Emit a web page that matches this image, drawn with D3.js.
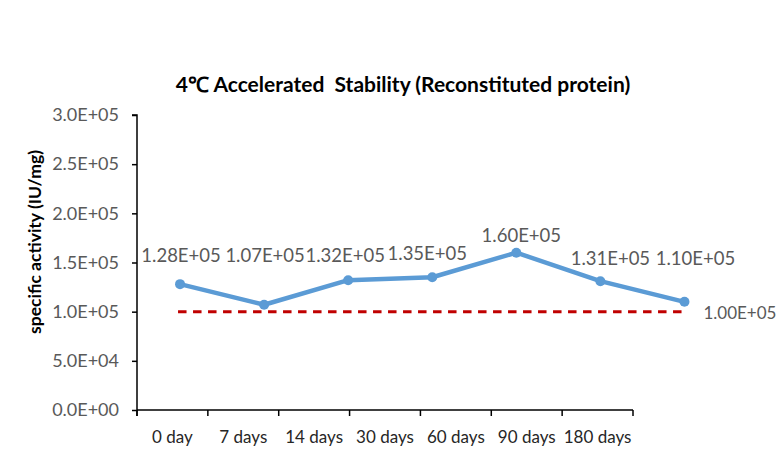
<!DOCTYPE html>
<html>
<head>
<meta charset="utf-8">
<script src="https://cdn.jsdelivr.net/npm/d3@7"></script>
<style>
  html, body { margin: 0; padding: 0; background: #fff; }
  svg { display: block; }
  text { font-family: Lato, "Open Sans", "Liberation Sans", sans-serif; }
</style>
</head>
<body>
<svg id="chart" width="780" height="461"></svg>
<script>
// ---- data ----
const categories = ["0 day", "7 days", "14 days", "30 days", "60 days", "90 days", "180 days"];
const activity = [1.28e5, 1.07e5, 1.32e5, 1.35e5, 1.60e5, 1.31e5, 1.10e5];
const activityLabels = ["1.28E+05", "1.07E+05", "1.32E+05", "1.35E+05", "1.60E+05", "1.31E+05", "1.10E+05"];
const threshold = 1.00e5;
const thresholdLabel = "1.00E+05";
const yTicks = [0, 0.5e5, 1.0e5, 1.5e5, 2.0e5, 2.5e5, 3.0e5];
const yTickLabels = ["0.0E+00", "5.0E+04", "1.0E+05", "1.5E+05", "2.0E+05", "2.5E+05", "3.0E+05"];
const titleText = "4\u2103 Accelerated  Stability (Reconstituted protein)";
const yTitle = "specific activity (IU/mg)";

// ---- layout ----
const svg = d3.select("#chart");
const plot = { left: 137, right: 633, top: 115, bottom: 410 };
// manual label nudges (dx, dy relative to point)
const labelNudge = [[1, -22], [1, -43], [-3, -18], [-5, -17], [5, -11], [10, -16], [11, -37]];

const y = d3.scaleLinear().domain([0, 3e5]).range([plot.bottom, plot.top]);
const x = d3.scaleBand().domain(categories).range([plot.left, plot.right]).padding(0);
// series is drawn on its own (secondary, hidden) category axis
const xs = d3.scaleBand().domain(categories).range([138, 726.5]).padding(0);
const cx = c => xs(c) + xs.bandwidth() / 2;

// title
svg.append("text")
  .attr("x", 403).attr("y", 92)
  .attr("text-anchor", "middle")
  .style("font-size", "21px").style("font-weight", "bold")
  .style("white-space", "pre")
  .attr("fill", "#000")
  .text(titleText);

// y axis
const yAxis = d3.axisLeft(y).tickValues(yTicks)
  .tickFormat((d, i) => yTickLabels[i]).tickSize(5).tickPadding(13);
const gy = svg.append("g").attr("transform", `translate(${plot.left},0)`).call(yAxis);
gy.select(".domain").attr("stroke", "#000").attr("stroke-width", 1.5)
  .attr("d", `M-5,${plot.top}H0V${plot.bottom + 6}`);
gy.selectAll(".tick line").attr("stroke", "#000").attr("stroke-width", 1.5);
gy.selectAll(".tick text").attr("fill", "#595959")
  .style("font-size", "18px").style("font-family", "Lato, 'Open Sans', sans-serif");

// y title
svg.append("text")
  .attr("transform", `translate(41,242) rotate(-90)`)
  .attr("text-anchor", "middle")
  .style("font-size", "17.5px").style("font-weight", "bold")
  .attr("fill", "#000")
  .text(yTitle);

// x axis
const xAxis = d3.axisBottom(x).tickSize(0).tickPadding(21);
const gx = svg.append("g").attr("transform", `translate(0,${plot.bottom})`).call(xAxis);
gx.select(".domain").attr("stroke", "#000").attr("stroke-width", 1.5)
  .attr("d", `M${plot.left},0H${plot.right}`);
gx.selectAll(".tick text").attr("fill", "#262626")
  .style("font-size", "17px").style("font-family", "Lato, 'Open Sans', sans-serif");
const boundaries = categories.map(c => x(c)).concat([x.range()[1]]);
gx.selectAll("line.bound").data(boundaries).enter().append("line")
  .attr("class", "bound")
  .attr("x1", d => d).attr("x2", d => d)
  .attr("y1", 0).attr("y2", 6)
  .attr("stroke", "#000").attr("stroke-width", 1.5);

// threshold dashed line
svg.append("line")
  .attr("x1", cx(categories[0]) - 2).attr("x2", cx(categories[categories.length - 1]) + 2)
  .attr("y1", y(threshold)).attr("y2", y(threshold))
  .attr("stroke", "#C00000").attr("stroke-width", 3)
  .attr("stroke-dasharray", "8.5,6.5");
svg.append("text")
  .attr("x", cx(categories[categories.length - 1]) + 19)
  .attr("y", y(threshold) + 7)
  .attr("fill", "#595959").style("font-size", "17px")
  .text(thresholdLabel);

// series line
const line = d3.line().x((d, i) => cx(categories[i])).y(d => y(d));
svg.append("path").datum(activity)
  .attr("d", line)
  .attr("fill", "none").attr("stroke", "#5B9BD5")
  .attr("stroke-width", 4.5).attr("stroke-linejoin", "round");
svg.selectAll("circle.pt").data(activity).enter().append("circle")
  .attr("class", "pt")
  .attr("cx", (d, i) => cx(categories[i])).attr("cy", d => y(d))
  .attr("r", 5).attr("fill", "#5B9BD5");

// data labels
svg.selectAll("text.lbl").data(activity).enter().append("text")
  .attr("class", "lbl")
  .attr("x", (d, i) => cx(categories[i]) + labelNudge[i][0])
  .attr("y", (d, i) => y(d) + labelNudge[i][1])
  .attr("text-anchor", "middle")
  .attr("fill", "#595959").style("font-size", "18.5px")
  .text((d, i) => activityLabels[i]);
</script>
</body>
</html>
